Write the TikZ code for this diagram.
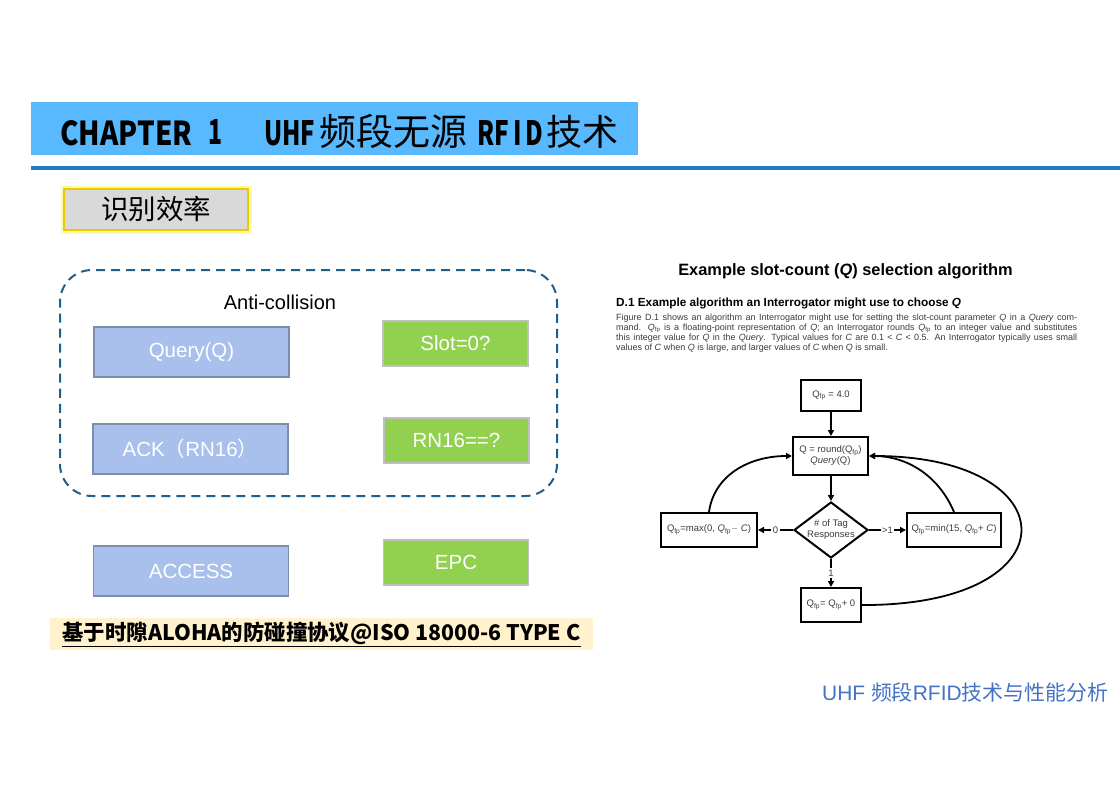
\documentclass[tikz,border=0pt]{standalone}
\usepackage{fontspec}
\setmainfont{Liberation Sans}
\newfontfamily\cjk{Noto Sans CJK SC}
\usetikzlibrary{arrows.meta,shapes.geometric}
\definecolor{hdr}{RGB}{88,185,255}
\definecolor{rulec}{RGB}{30,123,196}
\definecolor{bfill}{RGB}{168,192,235}
\definecolor{bline}{RGB}{125,142,172}
\definecolor{gfill}{RGB}{146,208,80}
\definecolor{gline}{RGB}{192,192,192}
\definecolor{dashc}{RGB}{31,95,140}
\definecolor{notec}{RGB}{255,242,204}
\definecolor{footc}{RGB}{68,114,196}
\definecolor{txt}{RGB}{60,60,60}
\definecolor{graybox}{RGB}{217,217,217}
\definecolor{goldc}{RGB}{240,200,0}
\newcommand\Qfp{\textit{Q}\textsubscript{fp}}
\newcommand\Qfpu{Q\textsubscript{fp}}
\begin{document}
\begin{tikzpicture}[x=1pt,y=-1pt,
  bluebox/.style={draw=bline, line width=1.5pt, fill=bfill, text=white,
    font=\fontsize{20.5}{24}\selectfont, minimum width=195pt, minimum height=50pt, inner sep=0pt},
  greenbox/.style={draw=gline, line width=1.5pt, fill=gfill, text=white,
    font=\fontsize{20.5}{24}\selectfont, minimum width=145pt, minimum height=45pt, inner sep=0pt},
  fbox/.style={draw=black, line width=2pt, fill=white, text=txt,
    font=\fontsize{9.5}{11}\selectfont, inner sep=0pt, align=center},
  flow/.style={line width=2pt, draw=black, -{Triangle[length=6pt,width=6pt]}},
  loopline/.style={line width=1.8pt, draw=black, -{Triangle[length=6pt,width=6pt]}},
  lbl/.style={fill=white, text=txt, font=\fontsize{9.5}{11}\selectfont, inner sep=1.5pt},
  hdrtxt/.style={anchor=base west, inner sep=0pt, text=black},
  paraline/.style={anchor=base west, inner sep=0pt, text=txt, font=\fontsize{9}{10}\selectfont},
]
\useasboundingbox (0,0) rectangle (1120,792);
\fill[white] (0,0) rectangle (1120,792);

% header
\node[fill=hdr, minimum width=607pt, minimum height=53pt, inner sep=0pt, anchor=north west] (bar) at (31,102) {};
\node[hdrtxt] (h1) at (60,145) {\resizebox{132pt}{25pt}{\cjk\bfseries CHAPTER}};
\node[hdrtxt] (h2) at (208,145) {\resizebox{14pt}{25pt}{\cjk\bfseries 1}};
\node[hdrtxt] (h3) at (264,145) {\resizebox{51pt}{25pt}{\cjk\bfseries UHF}};
\node[hdrtxt] (h4) at (319,145) {\cjk\fontsize{37}{40}\selectfont 频段无源};
\node[hdrtxt] (h5) at (477,145) {\resizebox{66pt}{25pt}{\cjk\bfseries RF\,I\,D}};
\node[hdrtxt] (h6) at (546,145) {\cjk\fontsize{36}{40}\selectfont 技术};
\draw[rulec, line width=4pt] (31,168) -- (1120,168);

% 识别效率
\node[draw=yellow!70, line width=7pt, opacity=0.5, minimum width=184pt, minimum height=41pt] (glow) at (156,209.5) {};
\node[fill=graybox, draw=goldc, line width=2.2pt, minimum width=184pt, minimum height=41pt, inner sep=0pt,
      font=\cjk\fontsize{27.5}{30}\selectfont] (sbl) at (156,209.5) {识别效率};

% anti-collision group
\node[draw=dashc, line width=2pt, dash pattern=on 9pt off 6pt, rounded corners=32pt,
      minimum width=497pt, minimum height=226pt, inner sep=0pt] (grp) at (308.5,383) {};
\node[font=\fontsize{20}{24}\selectfont] (anti) at (280,302) {Anti-collision};
\node[bluebox] (query) at (191.5,352) {Query(Q)};
\node[bluebox] (ack) at (190.5,449) {ACK{\cjk （}RN16{\cjk ）}};
\node[bluebox] (access) at (191,571) {ACCESS};
\node[greenbox] (slot) at (455.5,343.5) {Slot=0?};
\node[greenbox] (rn) at (456.5,440.5) {RN16==?};
\node[greenbox] (epc) at (456,562.5) {EPC};

% bottom note
\node[fill=notec, minimum width=543pt, minimum height=32pt, inner sep=0pt] (noteb) at (321.5,634) {};
\node[inner sep=0pt] (notet) at (321.5,634) {\resizebox{518pt}{!}{\underline{\cjk\bfseries\fontsize{20}{24}\selectfont 基于时隙ALOHA的防碰撞协议@ISO 18000-6 TYPE C}}};

% footer
\node[anchor=west, inner sep=0pt] (foot) at (822,693) {\resizebox{286pt}{!}{\color{footc}\fontsize{20}{24}\selectfont UHF {\cjk 频段}RFID{\cjk 技术与性能分析}}};

% right side text
\node[font=\fontsize{16.4}{20}\selectfont\bfseries] (title) at (845.5,271) {Example slot-count (\textit{Q}) selection algorithm};
\node[anchor=west, inner sep=0pt, font=\fontsize{11.8}{14}\selectfont\bfseries] (d1) at (616,303) {D.1 Example algorithm an Interrogator might use to choose \textit{Q}};
\node[paraline] (p1) at (616,320.5) {\makebox[461pt][s]{Figure D.1 shows an algorithm an Interrogator might use for setting the slot-count parameter \textit{Q} in a \textit{Query} com-}};
\node[paraline] (p2) at (616,330.5) {\makebox[461pt][s]{mand. \Qfp{} is a floating-point representation of \textit{Q}; an Interrogator rounds \Qfp{} to an integer value and substitutes}};
\node[paraline] (p3) at (616,340.5) {\makebox[461pt][s]{this integer value for \textit{Q} in the \textit{Query}. Typical values for \textit{C} are 0.1 < \textit{C} < 0.5. An Interrogator typically uses small}};
\node[paraline] (p4) at (616,350.5) {values of \textit{C} when \textit{Q} is large, and larger values of \textit{C} when \textit{Q} is small.};

% flowchart
\node[fbox, minimum width=60pt, minimum height=31pt] (init) at (831,395.5) {\Qfpu{} = 4.0};
\node[fbox, minimum width=75pt, minimum height=38pt] (round) at (830.5,456) {Q = round(\Qfpu)\\\textit{Query}(Q)};
\node[diamond, draw=black, line width=2pt, fill=white, aspect=1.32, minimum width=74pt, minimum height=56pt, inner sep=0pt] (dec) at (831,530) {};
\node[text=txt, font=\fontsize{9.5}{11}\selectfont, align=center, inner sep=0pt] (dect) at (dec) {\# of Tag\\Responses};
\node[fbox, minimum width=96pt, minimum height=34pt] (lb) at (709,530) {\Qfpu=max(0, \Qfp$-$ \textit{C})};
\node[fbox, minimum width=94pt, minimum height=34pt] (rb) at (954,530) {\Qfpu=min(15, \Qfp+ \textit{C})};
\node[fbox, minimum width=60pt, minimum height=34pt] (bb) at (831,605) {\Qfpu= \Qfpu+ 0};

\draw[flow] (init.south) -- (init.south |- round.north);
\draw[flow] (round.south -| dec.north) -- (dec.north);
\draw[flow] (dec.west) -- node[lbl] {0} (lb.east);
\draw[flow] (dec.east) -- node[lbl] {>1} (rb.west);
\draw[flow] (dec.south) -- node[lbl] {1} (bb.north);
\draw[loopline] (lb.north) .. controls (714,476) and (748,456) .. (round.west);
\draw[loopline] (rb.north) .. controls (938,474) and (905,456) .. (round.east);
\draw[loopline] (bb.east) .. controls (1075,606) and (1070,456) .. (round.east);
\end{tikzpicture}
\end{document}
